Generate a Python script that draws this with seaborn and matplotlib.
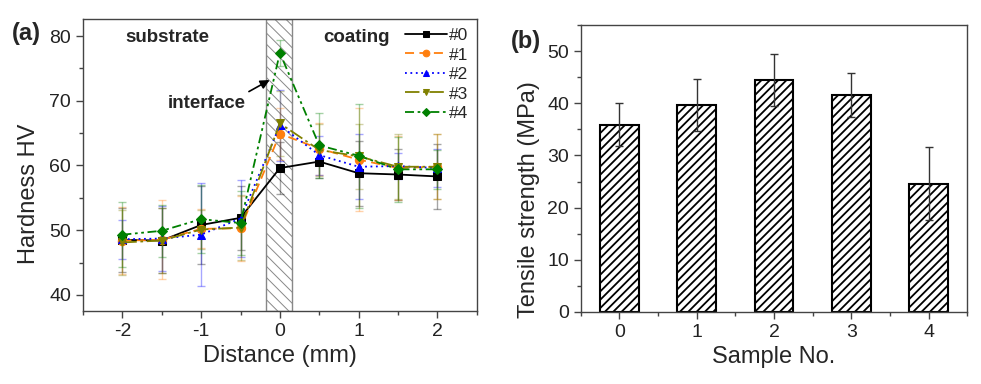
import matplotlib
matplotlib.use("Agg")
import matplotlib.pyplot as plt
import numpy as np
import pandas as pd
import seaborn as sns
from matplotlib.ticker import MultipleLocator

# Hardness profile across the interface
distance = [-2, -1.5, -1, -0.5, 0, 0.5, 1, 1.5, 2]
samples = ["#0", "#1", "#2", "#3", "#4"]
hv = {
    "#0": [48.5, 48.4, 50.8, 51.9, 59.6, 60.6, 58.8, 58.6, 58.3],
    "#1": [48.4, 48.5, 50.2, 50.3, 64.9, 62.6, 60.9, 59.6, 59.8],
    "#2": [48.6, 48.7, 49.3, 51.8, 66.2, 61.6, 59.8, 59.9, 59.6],
    "#3": [48.1, 48.4, 50.1, 50.4, 66.5, 62.4, 61.4, 59.8, 59.8],
    "#4": [49.3, 49.9, 51.7, 51.1, 77.4, 63.1, 61.5, 59.4, 59.4],
}
hv_err = {
    "#0": [5.0, 5.0, 6.0, 5.0, 4.0, 2.5, 5.0, 4.0, 5.0],
    "#1": [5.2, 6.1, 3.0, 5.0, 4.0, 4.0, 8.0, 5.0, 5.0],
    "#2": [3.0, 5.0, 8.0, 6.0, 5.5, 3.0, 5.0, 2.0, 3.0],
    "#3": [5.0, 5.0, 3.0, 5.0, 5.0, 4.0, 5.0, 5.0, 5.0],
    "#4": [5.0, 4.0, 5.3, 5.0, 2.0, 5.0, 8.0, 5.0, 3.0],
}
colors = ["black", "#ff7f0e", "#0000ff", "#808000", "#008000"]
markers = ["s", "o", "^", "v", "D"]
dashes = ["-", (0, (5, 3)), (0, (1, 2)), (0, (8, 2, 1.5, 2)), (0, (5, 2, 1.5, 2, 1.5, 2))]

# Tensile strength
sample_no = [0, 1, 2, 3, 4]
tensile = [35.9, 39.7, 44.4, 41.5, 24.6]
tensile_err = [4.1, 5.0, 5.0, 4.2, 7.0]

sns.set_style("ticks")
plt.rcParams["font.family"] = ["Liberation Sans", "DejaVu Sans"]
plt.rcParams["axes.unicode_minus"] = False

fig = plt.figure(figsize=(9.81, 3.84), dpi=100)
ax1 = fig.add_axes([0.0846, 0.19, 0.4014, 0.76])
ax2 = fig.add_axes([0.592, 0.1875, 0.394, 0.7475])

# (a) hardness
plt.rcParams["hatch.linewidth"] = 0.7
ax1.axvspan(-0.18, 0.16, facecolor="none", edgecolor="#888888", hatch="\\\\\\", linewidth=1.0, zorder=0)
for i, s in enumerate(samples):
    ax1.errorbar(distance, hv[s], yerr=hv_err[s], fmt="none", ecolor=colors[i],
                 alpha=0.35, elinewidth=1, capsize=3, zorder=1)
    df = pd.DataFrame({"d": distance, "hv": hv[s]})
    sns.lineplot(data=df, x="d", y="hv", ax=ax1, color=colors[i], marker=markers[i],
                 markersize=6 if markers[i] != "D" else 5, markeredgecolor=colors[i],
                 linestyle=dashes[i], linewidth=1.3, label=s, zorder=3)

ax1.set_xlim(-2.5, 2.5)
ax1.set_ylim(37.5, 82.6)
ax1.xaxis.set_major_locator(MultipleLocator(1))
ax1.xaxis.set_minor_locator(MultipleLocator(0.5))
ax1.yaxis.set_major_locator(MultipleLocator(10))
ax1.yaxis.set_minor_locator(MultipleLocator(5))
ax1.set_xlabel("Distance (mm)", fontsize=17)
ax1.set_ylabel("Hardness HV", fontsize=17)
ax1.yaxis.set_label_coords(-0.11, 0.40)
ax1.text(-1.43, 79.8, "substrate", fontsize=13.5, fontweight="bold", ha="center", va="center")
ax1.text(0.97, 79.8, "coating", fontsize=13.5, fontweight="bold", ha="center", va="center")
ax1.annotate("interface", xy=(-0.13, 73.2), xytext=(-0.93, 69.6), fontsize=13.5,
             fontweight="bold", ha="center", va="center",
             arrowprops=dict(arrowstyle="-|>", color="black", lw=1.2, shrinkA=0, shrinkB=0,
                             relpos=(0.85, 0.7)))
ax1.legend(loc="upper right", frameon=False, fontsize=12.5, handlelength=2.4, markerscale=0.8,
           handletextpad=0.1, labelspacing=0.25, borderaxespad=0.2, borderpad=0.3)

# (b) tensile strength
plt.rcParams["hatch.linewidth"] = 1.3
dfb = pd.DataFrame({"sample": sample_no, "ts": tensile})
sns.barplot(data=dfb, x="sample", y="ts", ax=ax2, color="white", width=0.5,
            edgecolor="black", linewidth=1.5, errorbar=None, zorder=2)
for p in ax2.patches:
    p.set_hatch("////")
ax2.errorbar(sample_no, tensile, yerr=tensile_err, fmt="none", ecolor="#333333",
             elinewidth=1, capsize=3, zorder=3)
ax2.set_xlim(-0.5, 4.5)
ax2.set_ylim(0, 55)
ax2.yaxis.set_major_locator(MultipleLocator(10))
ax2.yaxis.set_minor_locator(MultipleLocator(5))
ax2.xaxis.set_minor_locator(MultipleLocator(0.5))
ax2.set_xlabel("Sample No.", fontsize=17)
ax2.set_ylabel("Tensile strength (MPa)", fontsize=17)
ax2.yaxis.set_label_coords(-0.105, 0.39)

for ax in (ax1, ax2):
    for sp in ax.spines.values():
        sp.set_visible(True)
        sp.set_color("#444444")
        sp.set_linewidth(1.0)
    ax.tick_params(which="major", direction="out", length=5, width=1, labelsize=14,
                   color="#444444", labelcolor="#222222")
    ax.tick_params(which="minor", direction="out", length=3, width=1, color="#444444")
    ax.tick_params(top=False, right=False, which="both")

fig.text(0.012, 0.895, "(a)", fontsize=17, fontweight="bold")
fig.text(0.521, 0.875, "(b)", fontsize=17, fontweight="bold")

fig.savefig("out.png", dpi=100, facecolor="white")
